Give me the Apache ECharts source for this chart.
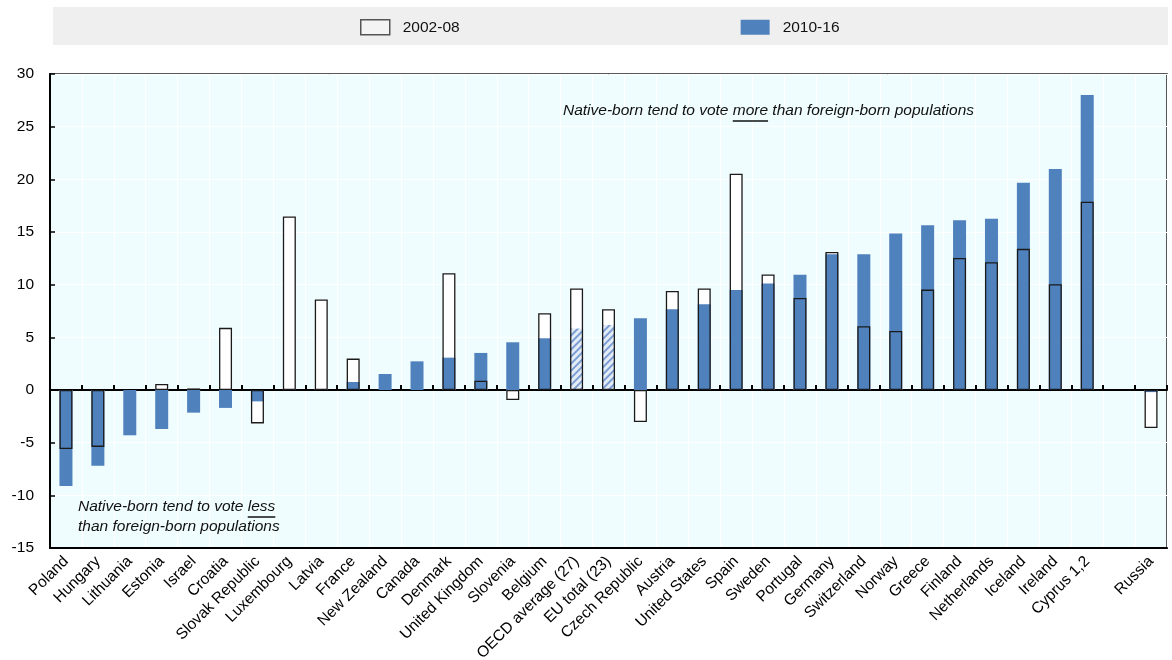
<!DOCTYPE html>
<html>
<head>
<meta charset="utf-8">
<script src="https://cdn.jsdelivr.net/npm/echarts@6/dist/echarts.min.js"></script>
<style>
html,body{margin:0;padding:0;background:#fff;}
#chart{width:1172px;height:660px;}
</style>
</head>
<body>
<div id="chart"></div>
<script>
// ---- data ----
const categories = ['Poland','Hungary','Lithuania','Estonia','Israel','Croatia','Slovak Republic','Luxembourg','Latvia','France','New Zealand','Canada','Denmark','United Kingdom','Slovenia','Belgium','OECD average (27)','EU total (23)','Czech Republic','Austria','United States','Spain','Sweden','Portugal','Germany','Switzerland','Norway','Greece','Finland','Netherlands','Iceland','Ireland','Cyprus 1,2','','Russia'];
const values2002_08 = [-5.6,-5.4,null,0.57,0.15,5.9,-3.17,16.47,8.6,2.98,null,null,11.09,0.89,-0.95,7.29,9.63,7.67,-3.04,9.41,9.63,20.53,10.96,8.74,13.11,6.05,5.61,9.53,12.54,12.13,13.4,10.04,17.87,null,-3.61];
const values2010_16 = [-9.12,-7.2,-4.3,-3.7,-2.15,-1.7,-1.08,null,null,0.76,1.52,2.72,3.07,3.52,4.53,4.91,5.83,6.18,6.81,7.67,8.14,9.5,10.1,10.93,12.89,12.89,14.86,15.65,16.12,16.25,19.67,20.97,28.0,null,-0.2];
const hatchedCategories = ['OECD average (27)','EU total (23)'];
const seriesNames = ['2002-08','2010-16'];
const yTicks = {min:-15, max:30, interval:5};
const noteMore = ['Native-born tend to vote ', 'more', ' than foreign-born populations'];
const noteLess = ['Native-born tend to vote ', 'less', 'than foreign-born populations'];

// ---- style ----
const FONT = "'Liberation Sans',Arial,sans-serif";
const BLUE = '#4f81bd';
const chart = echarts.init(document.getElementById('chart'));

const blueData = values2010_16.map((v,i)=>{
  if (hatchedCategories.includes(categories[i])) {
    return {value:v, itemStyle:{color:'#e4ecf7', decal:{symbol:'rect', symbolSize:1, dashArrayX:[1,0], dashArrayY:[2,3], rotation:-Math.PI/4, color:'#7c9fd3'}}};
  }
  return v;
});

function measure(txt, font){
  const c = document.createElement('canvas').getContext('2d');
  c.font = font; return c.measureText(txt).width;
}
const noteFont = 'italic 15.5px ' + FONT;
const graphics = [
  {type:'rect', left:53, top:7, shape:{width:1115, height:38}, style:{fill:'#efefef'}, z:-10, silent:true}
];
function addNote(parts, x, y, y2){
  const w0 = measure(parts[0], noteFont), w1 = measure(parts[1], noteFont);
  graphics.push({type:'text', x:x, y:y, style:{text:parts[0]+parts[1]+(y2==null?parts[2]:''), font:noteFont, fill:'#111', textVerticalAlign:'middle'}, z:50});
  graphics.push({type:'line', shape:{x1:x+w0, y1:y+10, x2:x+w0+w1, y2:y+10}, style:{stroke:'#111', lineWidth:1.5}, z:50});
  if (y2!=null) graphics.push({type:'text', x:x, y:y2, style:{text:parts[2], font:noteFont, fill:'#111', textVerticalAlign:'middle'}, z:50});
}
addNote(noteMore, 563, 111, null);
addNote(noteLess, 78, 507, 527);

const option = {
  animation:false,
  textStyle:{fontFamily:FONT},
  graphic: graphics,
  legend:{
    top:19, left:360, padding:0, itemGap:281, itemWidth:29, itemHeight:15,
    textStyle:{fontSize:15.5, color:'#111', fontFamily:FONT, padding:[0,0,0,8]},
    data:[
      {name:seriesNames[0], icon:'rect', itemStyle:{color:'#f4f4f4', borderColor:'#555', borderWidth:1.5}},
      {name:seriesNames[1], icon:'rect', itemStyle:{color:BLUE}}
    ],
    selectedMode:false
  },
  grid:{left:50, right:5, top:74, bottom:112, outerBoundsMode:'none', containLabel:false, show:true, backgroundColor:'#effdff', borderColor:'#222', borderWidth:1.5},
  xAxis:[
    {type:'category', data:categories, position:'bottom',
     axisLine:{onZero:false, lineStyle:{color:'#000', width:2}},
     axisTick:{show:false},
     splitLine:{show:true, interval:0, lineStyle:{color:'#ffffff', width:1}},
     axisLabel:{interval:0, rotate:45, fontSize:15.5, color:'#000', margin:11, fontFamily:FONT}},
    {type:'category', data:categories, position:'top',
     axisLine:{onZero:true, lineStyle:{color:'#000', width:2}},
     axisTick:{show:true, inside:false, length:5, interval:0, lineStyle:{color:'#000', width:2}},
     axisLabel:{show:false}, splitLine:{show:false}}
  ],
  yAxis:{type:'value', min:yTicks.min, max:yTicks.max, interval:yTicks.interval,
    axisLine:{show:true, lineStyle:{color:'#000', width:2}},
    axisTick:{show:true, inside:true, length:5, lineStyle:{color:'#000', width:1.5}},
    splitLine:{show:true, lineStyle:{color:'#ffffff', width:1}},
    axisLabel:{fontSize:15.5, color:'#000', margin:16, fontFamily:FONT}},
  series:[
    {name:seriesNames[0], type:'bar', data:values2002_08, barWidth:13, barGap:'-100%', z:2,
     itemStyle:{color:'#ffffff', borderColor:'#222', borderWidth:0}},
    {name:seriesNames[1], type:'bar', data:blueData, barWidth:13, barGap:'-100%', z:3,
     itemStyle:{color:BLUE}},
    {name:'outline', type:'bar', data:values2002_08, barWidth:13, barGap:'-100%', z:4,
     itemStyle:{color:'rgba(0,0,0,0)', borderColor:'#1a1a1a', borderWidth:1.3}}
  ]
};
chart.setOption(option);
</script>
</body>
</html>
